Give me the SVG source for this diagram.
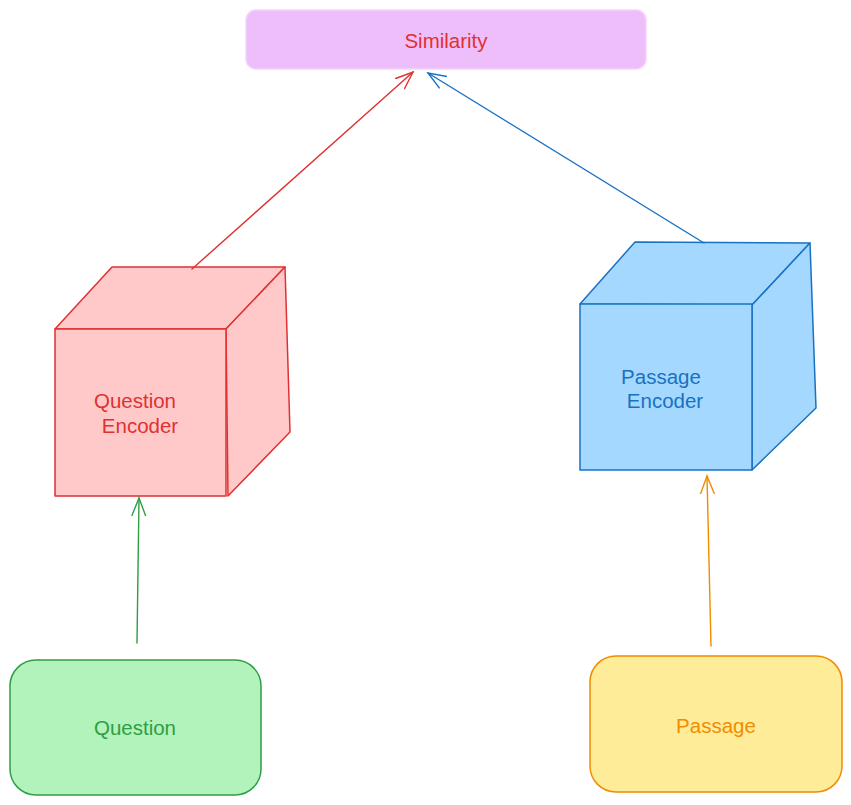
<svg xmlns="http://www.w3.org/2000/svg" width="851" height="805" viewBox="0 0 851 805">
<style>
  text { font-family: "Liberation Sans", Arial, sans-serif; font-size: 20.5px; text-anchor: middle; dominant-baseline: central; }
  .edge { fill: none; stroke-width: 1.4; stroke-linecap: round; }
  .shape { stroke-width: 1.5; stroke-linejoin: round; }
</style>
<defs>
  <marker id="ahR" viewBox="0 0 20 20" refX="18" refY="10" markerWidth="20" markerHeight="20" markerUnits="userSpaceOnUse" orient="auto">
    <path d="M0,3 L18,10 L0,17" fill="none" stroke="#e03131" stroke-width="1.4"/>
  </marker>
  <marker id="ahB" viewBox="0 0 20 20" refX="18" refY="10" markerWidth="20" markerHeight="20" markerUnits="userSpaceOnUse" orient="auto">
    <path d="M0,3 L18,10 L0,17" fill="none" stroke="#1971c2" stroke-width="1.4"/>
  </marker>
  <marker id="ahG" viewBox="0 0 20 20" refX="18" refY="10" markerWidth="20" markerHeight="20" markerUnits="userSpaceOnUse" orient="auto">
    <path d="M0,3 L18,10 L0,17" fill="none" stroke="#2f9e44" stroke-width="1.4"/>
  </marker>
  <marker id="ahO" viewBox="0 0 20 20" refX="18" refY="10" markerWidth="20" markerHeight="20" markerUnits="userSpaceOnUse" orient="auto">
    <path d="M0,3 L18,10 L0,17" fill="none" stroke="#f08c00" stroke-width="1.4"/>
  </marker>
</defs>

<g id="similarity">
  <rect class="shape" x="246" y="10" width="400" height="59" rx="10" fill="#eebefa" stroke="#f3d3fb"/>
  <text x="446" y="40" fill="#e03131">Similarity</text>
</g>

<g id="question-encoder">
  <polygon class="shape" points="55,329 112,267 285,267 226,329" fill="#ffc9c9" stroke="#e03131"/>
  <polygon class="shape" points="226,329 285,267 290,432 228,496" fill="#ffc9c9" stroke="#e03131"/>
  <rect class="shape" x="55" y="329" width="171" height="167" fill="#ffc9c9" stroke="#e03131"/>
  <text x="135" y="400" fill="#e03131">Question</text>
  <text x="140" y="425" fill="#e03131">Encoder</text>
</g>

<g id="passage-encoder">
  <polygon class="shape" points="580,304 635,242 810,243 752,305" fill="#a5d8ff" stroke="#1971c2"/>
  <polygon class="shape" points="752,305 810,243 816,408 752,470" fill="#a5d8ff" stroke="#1971c2"/>
  <rect class="shape" x="580" y="304" width="172" height="166" fill="#a5d8ff" stroke="#1971c2"/>
  <text x="661" y="376" fill="#1971c2">Passage</text>
  <text x="665" y="400" fill="#1971c2">Encoder</text>
</g>

<g id="question">
  <rect class="shape" x="10" y="660" width="251" height="135" rx="26" fill="#b2f2bb" stroke="#2f9e44"/>
  <text x="135" y="727" fill="#2f9e44">Question</text>
</g>

<g id="passage">
  <rect class="shape" x="590" y="656" width="252" height="136" rx="26" fill="#ffec99" stroke="#f08c00"/>
  <text x="716" y="725" fill="#f08c00">Passage</text>
</g>

<g id="connectors">
  <line class="edge" x1="192" y1="269" x2="413" y2="72" stroke="#e03131" marker-end="url(#ahR)"/>
  <line class="edge" x1="704" y1="243" x2="428" y2="73" stroke="#1971c2" marker-end="url(#ahB)"/>
  <line class="edge" x1="137" y1="643" x2="139" y2="498" stroke="#2f9e44" marker-end="url(#ahG)"/>
  <line class="edge" x1="711" y1="646" x2="707" y2="476" stroke="#f08c00" marker-end="url(#ahO)"/>
</g>
</svg>
